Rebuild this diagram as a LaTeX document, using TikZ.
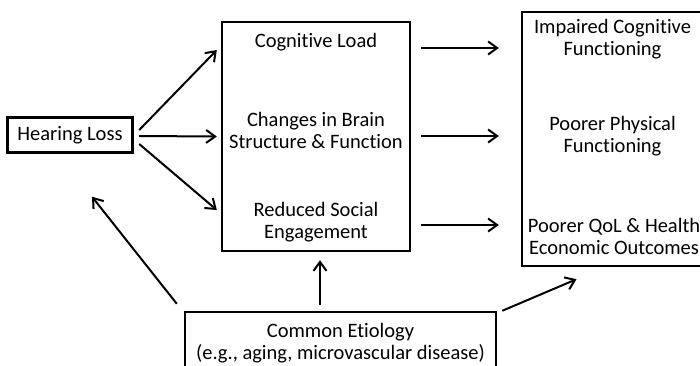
\documentclass[tikz,border=0pt]{standalone}
\usepackage{fontspec}
\setmainfont{Carlito}[Ligatures=NoCommon]
\usetikzlibrary{arrows.meta,calc}

\begin{document}
\begin{tikzpicture}[x=1pt,y=-1pt,
		box/.style={draw, line width=2.4pt, inner sep=0pt},
		lbl/.style={align=center, font=\fontsize{20.5}{22}\selectfont},
		arr/.style={-{Straight Barb[length=9pt,width=13pt]}, line width=2pt}]
	\useasboundingbox (0,0) rectangle (700,365);
	% boxes
	\node[box, lbl, minimum width=125pt, minimum height=35pt] (hl) at (70,135) {Hearing Loss};
	\node[box, minimum width=188pt, minimum height=229pt] (mid) at (316,136.5) {};
	\node[box, minimum width=183pt, minimum height=254pt] (res) at (613.5,139) {};
	\node[box, lbl, minimum width=311pt, minimum height=62pt] (etio) at (340.5,343) {Common Etiology\\(e.g., aging, microvascular disease)};
	% texts inside the boxes
	\node[lbl] (cog) at (316,42) {Cognitive Load};
	\node[lbl] (brain) at (316,130.5) {Changes in Brain\\Structure \& Function};
	\node[lbl] (soc) at (316,222) {Reduced Social\\Engagement};
	\node[lbl] (imp) at (612.5,39) {Impaired Cognitive\\Functioning};
	\node[lbl] (phys) at (612.5,136.5) {Poorer Physical\\Functioning};
	\node[lbl] (qol) at (614,236) {Poorer QoL \& Health\\Economic Outcomes};
	% connectors
	\path[arr]
	($(hl.east)+(5.5,-5)$) edge ($(mid.west)+(-4,-86.5)$)
	($(hl.east)+(5.5,1)$) edge ($(mid.west)+(-4,0)$)
	($(hl.east)+(5.5,9)$) edge ($(mid.west)+(-4,73.5)$)
	($(mid.east)+(10,-88.5)$) edge ($(res.west)+(-22,-91)$)
	($(mid.east)+(10,-0.5)$) edge ($(res.west)+(-22,-3)$)
	($(mid.east)+(10,88.5)$) edge ($(res.west)+(-22,86)$)
	($(etio.north west)+(-7,-7)$) edge ($(hl.south)+(22,43)$)
	($(etio.north)+(-20.5,-6)$) edge ($(mid.south)+(4,8)$)
	($(etio.north east)+(5,0)$) edge ($(res.south)+(-37,12)$);
\end{tikzpicture}
\end{document}
